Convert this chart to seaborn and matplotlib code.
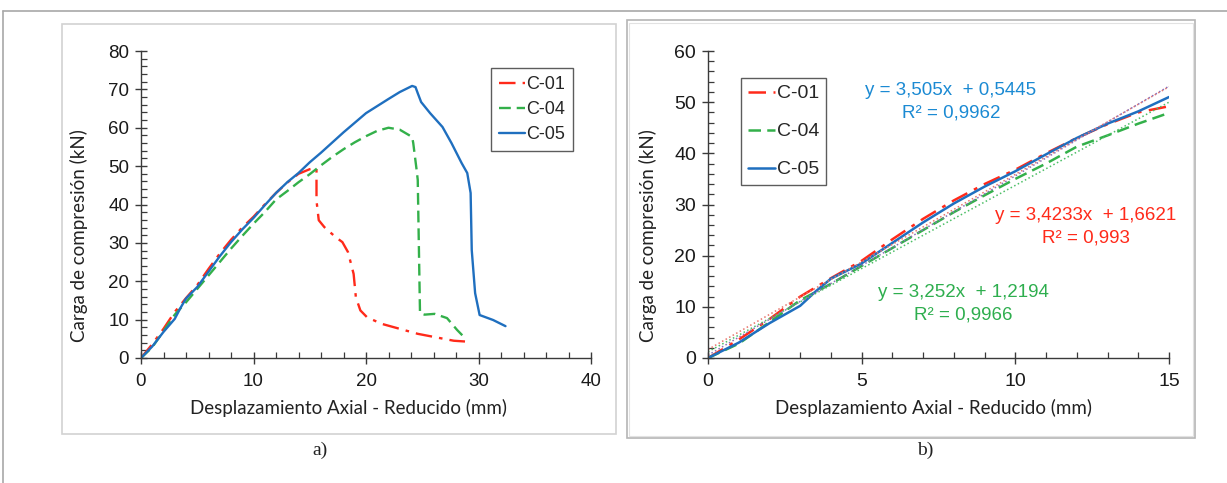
import numpy as np
import pandas as pd
import matplotlib
matplotlib.use("Agg")
import matplotlib.pyplot as plt
import seaborn as sns
from matplotlib.patches import Rectangle
from matplotlib.lines import Line2D
from matplotlib.ticker import MultipleLocator

# ---------------- data ----------------
series_names = ["C-01", "C-04", "C-05"]

c01_x = [0, 0.5, 1, 2, 3, 4, 5, 6, 7, 8, 9, 10, 11, 12, 13, 14, 14.5, 15, 15.6,
         15.6, 15.8, 16.3, 17.3, 17.9, 18.4, 18.9, 19.1, 19.5, 20.1, 21.4, 23, 24.6,
         26.2, 27.8, 28.8]
c01_y = [0, 1.8, 3.6, 7.6, 12, 15.6, 19, 23.2, 27.2, 30.8, 34, 36.8, 40, 43, 45.7,
         48, 48.6, 49.2, 49.5, 41, 35.9, 34.1, 31.5, 30.2, 27.6, 21.9, 15.8, 12.4,
         10.6, 8.9, 7.6, 6.3, 5.4, 4.5, 4.3]

c04_x = [0, 1, 2, 3, 4, 5, 6, 7, 8, 9, 10, 11, 12, 13, 14, 15, 16, 17, 18, 19, 20,
         21, 22, 23, 24.1, 24.2, 24.5, 24.6, 24.7, 24.8, 25.2, 26.1, 27.2, 28.1, 28.8]
c04_y = [0, 2.8, 7, 11.3, 14.5, 18, 21.5, 25, 28.5, 31.8, 35, 38, 41.3, 43.5, 45.8,
         47.9, 50.2, 52.4, 54.4, 56.2, 57.8, 59.2, 60, 59.5, 57.6, 56, 49, 46.4, 29,
         11.7, 11.3, 11.5, 10.4, 7.3, 5.2]

c05_x = [0, 1, 2, 3, 3.5, 4, 5, 6, 7, 8, 9, 10, 11, 12, 13, 14, 15, 16, 18, 20, 22,
         23, 24.1, 24.4, 24.6, 24.9, 25.7, 26.8, 27.6, 28.5, 29.0, 29.3, 29.4, 29.7,
         30.1, 31.3, 32.4]
c05_y = [0, 3, 6.8, 10.2, 13, 15.5, 18.5, 22.5, 26.5, 30.2, 33.5, 36.5, 39.8, 43,
         45.8, 48.2, 51, 53.5, 58.8, 63.8, 67.5, 69.3, 70.9, 70.6, 69, 66.7, 63.8,
         60.2, 56, 50.8, 48.2, 43, 28.1, 16.9, 11.2, 9.9, 8.3]

# linear trend lines shown in panel b (coefficients as printed)
trend_slope = [3.4233, 3.252, 3.505]
trend_intercept = [1.6621, 1.2194, 0.5445]
trend_eq = ["y = 3,4233x  + 1,6621", "y = 3,252x  + 1,2194", "y = 3,505x  + 0,5445"]
trend_r2 = ["R² = 0,993", "R² = 0,9966", "R² = 0,9962"]
trend_text_pos = [(12.3, 27.9, 23.4), (8.3, 12.8, 8.4), (7.9, 52.3, 47.8)]

left_xticks = [0, 10, 20, 30, 40]
left_yticks = [0, 10, 20, 30, 40, 50, 60, 70, 80]
right_xticks = [0, 5, 10, 15]
right_yticks = [0, 10, 20, 30, 40, 50, 60]

xlabel = "Desplazamiento Axial - Reducido (mm)"
ylabel = "Carga de compresión (kN)"
panel_labels = ["a)", "b)"]

# ---------------- styling ----------------
colors = {"C-01": "#ff2a1a", "C-04": "#33b04a", "C-05": "#1f6fbf"}
text_colors = {"C-01": "#ff2a1a", "C-04": "#2eae4e", "C-05": "#1b8ad3"}
trend_colors = {"C-01": "#e8756c", "C-04": "#4cbf66", "C-05": "#8a6fb8"}
dashes = {"C-01": (7, 3, 1.5, 3), "C-04": (5, 2.5), "C-05": ""}

df = pd.concat([
    pd.DataFrame({"x": c01_x, "y": c01_y, "serie": "C-01"}),
    pd.DataFrame({"x": c04_x, "y": c04_y, "serie": "C-04"}),
    pd.DataFrame({"x": c05_x, "y": c05_y, "serie": "C-05"}),
], ignore_index=True)

sns.set_theme(style="ticks")
plt.rcParams["font.family"] = ["Liberation Sans", "DejaVu Sans"]

W, H = 1227, 483
fig = plt.figure(figsize=(W / 100, H / 100), dpi=100)
fig.patch.set_facecolor("white")


def px_axes(x0, y0, x1, y1):
    return fig.add_axes([x0 / W, 1 - y1 / H, (x1 - x0) / W, (y1 - y0) / H])


axL = px_axes(141, 51, 591, 358)
axR = px_axes(708, 51, 1169, 358)

axis_color = "#3a3a3a"
label_font = dict(family=["Lato", "DejaVu Sans"], size=13.5, color="#222222")


def style_axes(ax, xt, yt, xminor, yminor, fs, xlab_x, ylab_x):
    for s in ["top", "right"]:
        ax.spines[s].set_visible(False)
    for s in ["left", "bottom"]:
        ax.spines[s].set_color(axis_color)
        ax.spines[s].set_linewidth(1.0)
    ax.set_xticks(xt)
    ax.set_yticks(yt)
    ax.xaxis.set_minor_locator(MultipleLocator(xminor))
    ax.yaxis.set_minor_locator(MultipleLocator(yminor))
    ax.tick_params(which="major", direction="inout", length=9, width=1.0,
                   color=axis_color, labelsize=fs, labelcolor="#1a1a1a", pad=4)
    ax.tick_params(axis="x", which="major", pad=6)
    ax.tick_params(which="minor", direction="in", length=4, width=0.9, color=axis_color)
    ax.set_xlabel(xlabel, fontdict=label_font)
    ax.set_ylabel(ylabel, fontdict=label_font)
    ax.xaxis.set_label_coords(xlab_x, -0.134)
    ax.yaxis.set_label_coords(ylab_x, 0.40)
    ax.grid(False)
    ax.set_facecolor("white")


# ---------------- panel a ----------------
sns.lineplot(data=df, x="x", y="y", hue="serie", style="serie", palette=colors,
             dashes=dashes, sort=False, estimator=None, linewidth=1.7, ax=axL,
             legend=False)
axL.set_xlim(0, 40)
axL.set_ylim(0, 80)
style_axes(axL, left_xticks, left_yticks, 2, 2, 13.5, 0.46, -0.118)

handlesL = [Line2D([0], [0], color=colors[n], lw=1.7,
                   dashes=dashes[n] if dashes[n] else (None, None)) for n in series_names]
legL = axL.legend(handlesL, series_names, loc="upper left", bbox_to_anchor=(0.778, 0.945),
                  frameon=True, fancybox=False, edgecolor="#333333", fontsize=13,
                  handlelength=1.4, handletextpad=0.1, labelspacing=0.45,
                  borderpad=0.45, borderaxespad=0)
legL.get_frame().set_linewidth(1.0)

# ---------------- panel b ----------------
dfR = df[df["x"] <= 15]
sns.lineplot(data=dfR, x="x", y="y", hue="serie", style="serie", palette=colors,
             dashes=dashes, sort=False, estimator=None, linewidth=1.8, ax=axR,
             legend=False)

trend_df = pd.concat([
    pd.DataFrame({"x": [0, 15],
                  "y": [b, m * 15 + b],
                  "serie": n})
    for n, m, b in zip(series_names, trend_slope, trend_intercept)
], ignore_index=True)
sns.lineplot(data=trend_df, x="x", y="y", hue="serie", palette=trend_colors,
             sort=False, estimator=None, linewidth=1.1, linestyle=":", ax=axR,
             legend=False)

for n, eq, r2, (tx, ty1, ty2) in zip(series_names, trend_eq, trend_r2, trend_text_pos):
    axR.text(tx, ty1, eq, color=text_colors[n], fontsize=13.5, ha="center", va="center")
    axR.text(tx, ty2, r2, color=text_colors[n], fontsize=13.5, ha="center", va="center")

axR.set_xlim(0, 15)
axR.set_ylim(0, 60)
style_axes(axR, right_xticks, right_yticks, 1, 2, 14, 0.49, -0.111)

handlesR = [Line2D([0], [0], color=colors[n], lw=1.8,
                   dashes=dashes[n] if dashes[n] else (None, None)) for n in series_names]
legR = axR.legend(handlesR, series_names, loc="upper left", bbox_to_anchor=(0.072, 0.912),
                  frameon=True, fancybox=False, edgecolor="#333333", fontsize=14,
                  handlelength=1.4, handletextpad=0.1, labelspacing=1.05,
                  borderpad=0.35, borderaxespad=0)
legR.get_frame().set_linewidth(1.0)

# ---------------- frames and panel labels ----------------
def px_rect(x0, y0, x1, y1, ec, lw=1.0):
    fig.patches.append(Rectangle((x0 / W, 1 - y1 / H), (x1 - x0) / W, (y1 - y0) / H,
                                 transform=fig.transFigure, fill=False, ec=ec, lw=lw,
                                 zorder=0))

px_rect(62, 24, 616, 434, "#d2d2d2", 1.2)
px_rect(627, 20, 1195, 438, "#b5b5b5", 1.2)
px_rect(629, 23, 1193, 436, "#e2e2e2", 0.8)

fig.lines.append(Line2D([3 / W, 1], [1 - 11 / H, 1 - 11 / H], transform=fig.transFigure,
                        color="#a8a8a8", lw=1.2))
fig.lines.append(Line2D([3 / W, 3 / W], [1 - 11 / H, 0], transform=fig.transFigure,
                        color="#a8a8a8", lw=1.2))

fig.text(320 / W, 1 - 450 / H, panel_labels[0], ha="center", va="center", fontsize=14,
         family=["Liberation Serif", "DejaVu Serif"], color="#222222")
fig.text(925 / W, 1 - 450 / H, panel_labels[1], ha="center", va="center", fontsize=14,
         family=["Liberation Serif", "DejaVu Serif"], color="#222222")

fig.savefig("out.png", dpi=100, facecolor="white")
